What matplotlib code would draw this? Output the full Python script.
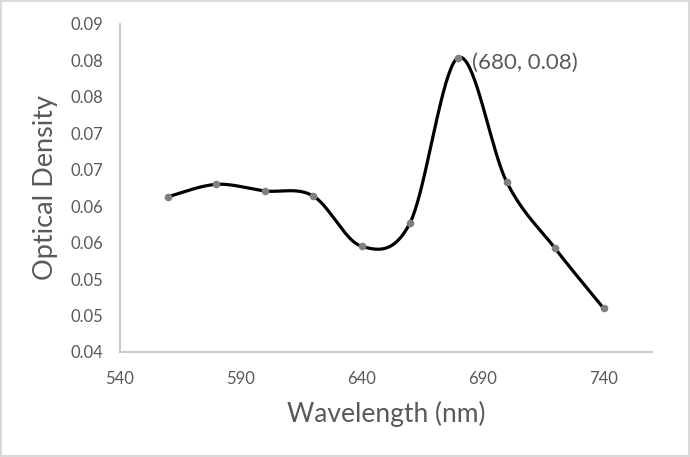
import numpy as np
import matplotlib
matplotlib.use('Agg')
import matplotlib.pyplot as plt
from matplotlib.ticker import FixedLocator, MultipleLocator, FuncFormatter
from decimal import Decimal, ROUND_HALF_UP

# spectrum
wavelength = [560, 580, 600, 620, 640, 660, 680, 700, 720, 740]
optical_density = [0.0613, 0.0630, 0.0621, 0.0614, 0.0545, 0.0577, 0.0804, 0.0633, 0.0542, 0.0460]
peak_index = 6
x_ticks = [540, 590, 640, 690, 740]

TEXT = '#595959'
AXIS = '#bfbfbf'
plt.rcParams['font.family'] = ['Lato', 'DejaVu Sans']


def smooth_curve(xs, ys, steps=40):
    """Excel-like smoothed line: Catmull-Rom segments drawn as cubic Beziers"""
    pts = np.column_stack([xs, ys]).astype(float)
    padded = np.vstack([pts[0], pts, pts[-1]])
    t = np.linspace(0, 1, steps)[:, None]
    out = []
    for i in range(len(pts) - 1):
        p0, p1, p2, p3 = padded[i], padded[i + 1], padded[i + 2], padded[i + 3]
        c1 = p1 + (p2 - p0) / 6
        c2 = p2 - (p3 - p1) / 6
        seg = ((1 - t) ** 3) * p1 + 3 * ((1 - t) ** 2) * t * c1 + 3 * (1 - t) * t ** 2 * c2 + t ** 3 * p2
        out.append(seg if i == 0 else seg[1:])
    curve = np.vstack(out)
    return curve[:, 0], curve[:, 1]


def excel_round(v, pos):
    # Excel rounds half up, so 0.045 shows as 0.05
    d = Decimal(str(round(v, 6))).quantize(Decimal('0.01'), rounding=ROUND_HALF_UP)
    return str(d)


fig = plt.figure(figsize=(6.9, 4.57), dpi=100)
fig.patch.set_edgecolor('#d9d9d9')
fig.patch.set_linewidth(1.5)
ax = fig.add_axes([0.1733, 0.2298, 0.9449 - 0.1733, 0.9475 - 0.2298])

sx, sy = smooth_curve(wavelength, optical_density)
ax.plot(sx, sy, color='black', linewidth=2.3, solid_capstyle='round', clip_on=False, zorder=2)
ax.plot(wavelength, optical_density, linestyle='none', marker='o', markersize=5.5,
        color='#808080', markeredgewidth=0, clip_on=False, zorder=3)

px, py = wavelength[peak_index], optical_density[peak_index]
ax.annotate(f'({px}, {py:.2f})', xy=(px, py), xytext=(10, -3.5), textcoords='offset points',
            ha='left', va='center', fontsize=16, color=TEXT)

ax.set_xlim(540, 760)
ax.set_ylim(0.04, 0.085)
ax.xaxis.set_major_locator(FixedLocator(x_ticks))
ax.yaxis.set_major_locator(MultipleLocator(0.005))
ax.yaxis.set_major_formatter(FuncFormatter(excel_round))

for side in ['top', 'right']:
    ax.spines[side].set_visible(False)
for side in ['left', 'bottom']:
    ax.spines[side].set_color(AXIS)
    ax.spines[side].set_linewidth(1.2)

ax.tick_params(length=0, labelsize=12, labelcolor=TEXT)
ax.tick_params(axis='x', pad=14)
ax.tick_params(axis='y', pad=12)

ax.set_xlabel('Wavelength (nm)', fontsize=19, color=TEXT, labelpad=10)
ax.set_ylabel('Optical Density', fontsize=19.5, color=TEXT, labelpad=9)

fig.savefig('out.png', dpi=100)
